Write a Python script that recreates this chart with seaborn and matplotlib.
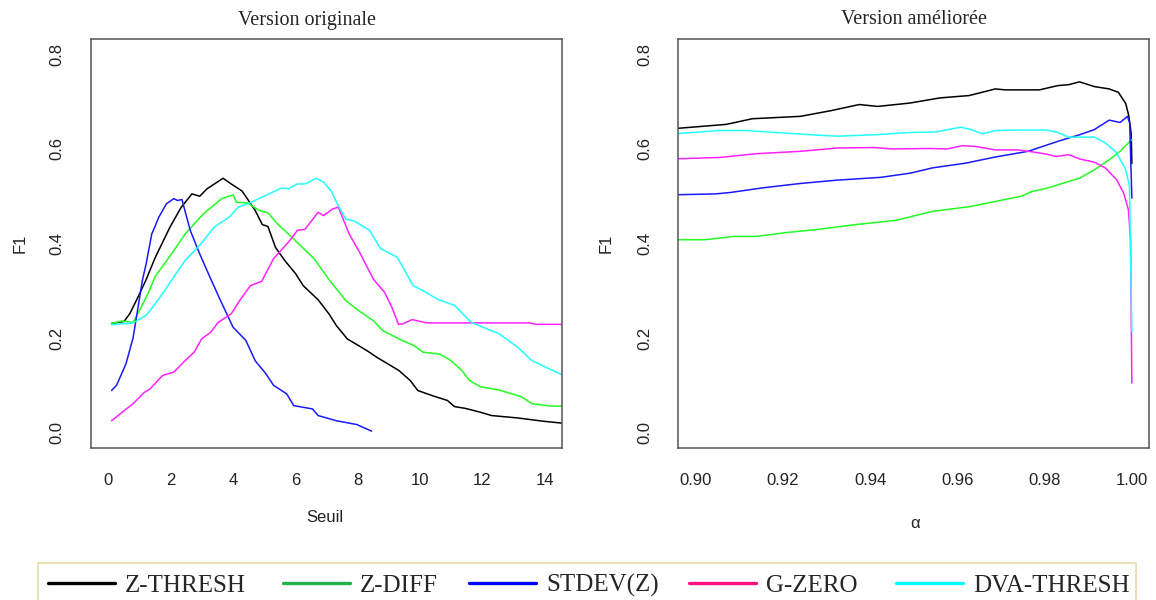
"""F1 curves: original threshold version vs improved alpha version."""

import pandas as pd
import seaborn as sns
import matplotlib.pyplot as plt
from matplotlib.lines import Line2D
from matplotlib.patches import Rectangle


METHODS = ['Z-THRESH', 'Z-DIFF', 'STDEV(Z)', 'G-ZERO', 'DVA-THRESH']
LINE_COLORS = ['#000000', '#22ff22', '#1a1aff', '#ff22ff', '#22ffff']
LEGEND_COLORS = ['#000000', '#22b14c', '#0000ff', '#ff0f80', '#00ffff']

# left panel: F1 as a function of the threshold ("Seuil")
zt_seuil = [0.1, 0.5, 0.69, 0.9, 1.2, 1.5, 1.97, 2.33, 2.68, 2.93, 3.17, 3.68, 3.94,
            4.29, 4.71, 4.94, 5.12, 5.36, 5.66, 6.01, 6.25, 6.73, 7.08, 7.32, 7.67,
            8.03, 8.33, 8.62, 8.98, 9.33, 9.69, 9.93, 10.4, 10.88, 11.11, 11.47,
            11.94, 12.3, 13.13, 13.96, 14.7]
zt_f1 = [0.231, 0.235, 0.252, 0.28, 0.322, 0.37, 0.434, 0.476, 0.505, 0.50, 0.516,
         0.538, 0.526, 0.511, 0.47, 0.44, 0.436, 0.392, 0.364, 0.336, 0.311, 0.281,
         0.251, 0.226, 0.198, 0.184, 0.172, 0.159, 0.145, 0.131, 0.110, 0.089,
         0.078, 0.068, 0.055, 0.051, 0.043, 0.036, 0.031, 0.024, 0.019]

zd_seuil = [0.1, 0.44, 0.79, 0.97, 1.27, 1.5, 2.1, 2.46, 3.05, 3.64, 4.0, 4.11, 4.47,
            4.83, 5.12, 5.42, 5.89, 6.6, 7.1, 7.62, 8.03, 8.5, 8.8, 9.33, 9.81,
            10.1, 10.64, 11.0, 11.35, 11.59, 11.94, 12.54, 13.25, 13.6, 14.2, 14.7]
zd_f1 = [0.231, 0.236, 0.233, 0.255, 0.294, 0.33, 0.385, 0.42, 0.463, 0.495, 0.503,
         0.487, 0.486, 0.47, 0.465, 0.442, 0.413, 0.368, 0.322, 0.279, 0.258, 0.237,
         0.216, 0.198, 0.184, 0.170, 0.166, 0.152, 0.131, 0.110, 0.097, 0.090,
         0.076, 0.061, 0.056, 0.056]

sd_seuil = [0.1, 0.26, 0.56, 0.79, 1.09, 1.21, 1.39, 1.62, 1.86, 2.1, 2.21, 2.36,
            2.51, 2.63, 2.93, 3.25, 3.6, 4.0, 4.41, 4.71, 5.06, 5.3, 5.72, 5.95,
            6.55, 6.73, 7.32, 7.97, 8.45]
sd_f1 = [0.089, 0.10, 0.145, 0.20, 0.322, 0.357, 0.42, 0.456, 0.484, 0.495, 0.491,
         0.493, 0.456, 0.427, 0.378, 0.33, 0.279, 0.223, 0.195, 0.152, 0.124, 0.10,
         0.082, 0.057, 0.050, 0.036, 0.025, 0.017, 0.003]

gz_seuil = [0.1, 0.44, 0.79, 1.15, 1.33, 1.74, 2.1, 2.46, 2.75, 2.99, 3.28, 3.52,
            3.94, 4.23, 4.56, 4.92, 5.3, 5.78, 6.07, 6.31, 6.73, 6.9, 7.2, 7.38,
            7.73, 8.09, 8.5, 8.86, 9.1, 9.31, 9.45, 9.75, 10.22, 11.94, 13.49,
            13.72, 14.7]
gz_f1 = [0.025, 0.043, 0.061, 0.085, 0.092, 0.121, 0.128, 0.152, 0.17, 0.198, 0.212,
         0.233, 0.251, 0.281, 0.311, 0.320, 0.368, 0.403, 0.428, 0.43, 0.466, 0.459,
         0.473, 0.477, 0.42, 0.378, 0.325, 0.297, 0.265, 0.229, 0.23, 0.239,
         0.232, 0.232, 0.232, 0.229, 0.229]

dva_seuil = [0.1, 0.44, 0.79, 1.21, 1.5, 1.8, 2.02, 2.46, 2.93, 3.4, 3.88, 4.17,
             4.47, 5.06, 5.54, 5.78, 6.07, 6.31, 6.67, 6.9, 7.14, 7.38, 7.62, 7.91,
             8.38, 8.74, 9.27, 9.78, 10.1, 10.6, 11.11, 11.65, 12.54, 13.13, 13.6,
             14.08, 14.7]
dva_f1 = [0.228, 0.23, 0.232, 0.248, 0.272, 0.30, 0.322, 0.364, 0.396, 0.435, 0.456,
          0.477, 0.484, 0.502, 0.517, 0.516, 0.526, 0.526, 0.538, 0.53, 0.512, 0.48,
          0.452, 0.447, 0.428, 0.389, 0.371, 0.311, 0.30, 0.281, 0.269, 0.233,
          0.209, 0.181, 0.152, 0.137, 0.118]

# right panel: F1 as a function of alpha
zt_alpha = [0.895, 0.907, 0.913, 0.924, 0.931, 0.9375, 0.9417, 0.949, 0.956, 0.9627,
            0.9687, 0.971, 0.9788, 0.983, 0.9855, 0.988, 0.9914, 0.9948, 0.9969,
            0.9986, 0.9993, 0.99985, 1.0]
zt_alpha_f1 = [0.643, 0.652, 0.664, 0.669, 0.681, 0.694, 0.690, 0.697, 0.708, 0.713,
               0.727, 0.725, 0.725, 0.734, 0.736, 0.742, 0.732, 0.727, 0.720, 0.696,
               0.670, 0.632, 0.569]

zd_alpha = [0.895, 0.9021, 0.9088, 0.9139, 0.9206, 0.9282, 0.9366, 0.9459, 0.9543,
            0.9628, 0.9687, 0.9746, 0.9771, 0.9805, 0.9847, 0.988, 0.9914, 0.9948,
            0.9973, 1.0]
zd_alpha_f1 = [0.408, 0.408, 0.415, 0.415, 0.423, 0.430, 0.440, 0.449, 0.468, 0.478,
               0.489, 0.500, 0.510, 0.517, 0.529, 0.538, 0.556, 0.577, 0.595, 0.620]

sd_alpha = [0.895, 0.9046, 0.908, 0.9156, 0.924, 0.9324, 0.9425, 0.9493, 0.9543,
            0.9619, 0.9687, 0.9762, 0.983, 0.988, 0.9914, 0.9948, 0.9973, 0.999,
            0.9995, 1.0]
sd_alpha_f1 = [0.503, 0.505, 0.508, 0.518, 0.527, 0.534, 0.540, 0.549, 0.560, 0.570,
               0.583, 0.595, 0.616, 0.630, 0.641, 0.661, 0.656, 0.669, 0.655, 0.496]

gz_alpha = [0.895, 0.9055, 0.9139, 0.924, 0.9324, 0.9409, 0.9451, 0.9535, 0.9577,
            0.9611, 0.9644, 0.9687, 0.9737, 0.9771, 0.9805, 0.9826, 0.9855, 0.988,
            0.9914, 0.9939, 0.9965, 0.9981, 0.9992, 0.9997, 1.0]
gz_alpha_f1 = [0.579, 0.582, 0.590, 0.595, 0.602, 0.603, 0.600, 0.601, 0.600, 0.607,
               0.605, 0.598, 0.598, 0.594, 0.589, 0.584, 0.588, 0.579, 0.572, 0.560,
               0.535, 0.507, 0.472, 0.408, 0.105]

dva_alpha = [0.895, 0.9055, 0.9114, 0.9198, 0.9265, 0.9324, 0.9409, 0.9493, 0.955,
             0.9607, 0.9628, 0.9657, 0.9687, 0.9746, 0.9805, 0.983, 0.9855, 0.9889,
             0.9914, 0.9939, 0.9965, 0.9986, 0.99945, 1.0]
dva_alpha_f1 = [0.632, 0.639, 0.639, 0.634, 0.630, 0.627, 0.630, 0.635, 0.636, 0.646,
                0.642, 0.632, 0.639, 0.640, 0.640, 0.635, 0.625, 0.625, 0.625, 0.613,
                0.592, 0.556, 0.521, 0.214]

FIG_W, FIG_H = 1156, 600
SERIF = ['Liberation Serif', 'DejaVu Serif']
SANS = ['Liberation Sans', 'DejaVu Sans']


def build_frame(xs, ys):
    rows = []
    for name, x, y in zip(METHODS, xs, ys):
        rows.append(pd.DataFrame({'x': x, 'F1': y, 'method': name}))
    return pd.concat(rows, ignore_index = True)


def fx(px):
    return px / FIG_W


def fy(py):
    return 1 - py / FIG_H


def style_axes(ax):
    for spine in ax.spines.values():
        spine.set_visible(True)
        spine.set_color('#555555')
        spine.set_linewidth(1.1)
    ax.tick_params(direction = 'out', length = 7, width = 1.1, color = '#555555',
                   labelsize = 12, labelcolor = '#222222')
    ax.tick_params(axis = 'x', pad = 11)
    ax.tick_params(axis = 'y', pad = 12)
    ax.set_ylim(-0.032, 0.832)
    ax.set_yticks([0.0, 0.2, 0.4, 0.6, 0.8])
    ax.set_yticklabels(['0.0', '0.2', '0.4', '0.6', '0.8'], rotation = 90, va = 'center')
    ax.set_ylabel('F1', fontsize = 12, color = '#222222', va = 'center')


def main():
    sns.set_style('white')
    plt.rcParams['font.family'] = SANS

    palette = dict(zip(METHODS, LINE_COLORS))
    left = build_frame([zt_seuil, zd_seuil, sd_seuil, gz_seuil, dva_seuil],
                       [zt_f1, zd_f1, sd_f1, gz_f1, dva_f1])
    right = build_frame([zt_alpha, zd_alpha, sd_alpha, gz_alpha, dva_alpha],
                        [zt_alpha_f1, zd_alpha_f1, sd_alpha_f1, gz_alpha_f1, dva_alpha_f1])

    fig = plt.figure(figsize = (FIG_W / 100, FIG_H / 100), dpi = 100)
    ax1 = fig.add_axes([fx(91), fy(447.7), fx(471), 408.4 / FIG_H])
    ax2 = fig.add_axes([fx(678.3), fy(447.7), fx(471), 408.4 / FIG_H])

    sns.lineplot(data = left, x = 'x', y = 'F1', hue = 'method', palette = palette,
                 estimator = None, sort = False, linewidth = 1.1, legend = False, ax = ax1)
    sns.lineplot(data = right, x = 'x', y = 'F1', hue = 'method', palette = palette,
                 estimator = None, sort = False, linewidth = 1.1, legend = False, ax = ax2)

    style_axes(ax1)
    ax1.set_xlim(-0.56, 14.56)
    ax1.set_xticks(range(0, 15, 2))
    ax1.set_xlabel('Seuil', fontsize = 12, color = '#222222', va = 'center')
    ax1.xaxis.set_label_coords((325 - 91) / 471, (447.7 - 518) / 408.4)
    ax1.yaxis.set_label_coords((20 - 91) / 471, 0.5)

    style_axes(ax2)
    ax2.set_xlim(0.896, 1.004)
    ax2.set_xticks([0.90, 0.92, 0.94, 0.96, 0.98, 1.00])
    ax2.set_xticklabels(['0.90', '0.92', '0.94', '0.96', '0.98', '1.00'])
    ax2.set_xlabel('α', fontsize = 12, color = '#222222', va = 'center')
    ax2.xaxis.set_label_coords((914.6 - 678.3) / 471, (447.7 - 523) / 408.4)
    ax2.yaxis.set_label_coords((606 - 678.3) / 471, 0.5)

    fig.text(fx(307), fy(20), 'Version originale', family = SERIF, fontsize = 14.5,
             ha = 'center', va = 'center')
    fig.text(fx(914), fy(20), 'Version améliorée', family = SERIF, fontsize = 14.5,
             ha = 'center', va = 'center')

    # legend strip along the bottom edge
    fig.patches.append(Rectangle((fx(37.7), fy(612)), fx(1136 - 37.7), 49.3 / FIG_H,
                                 transform = fig.transFigure, fill = False,
                                 edgecolor = '#e8dca8', linewidth = 1.2))
    line_starts = [48, 283, 469, 689, 896]
    for name, color, x0 in zip(METHODS, LEGEND_COLORS, line_starts):
        fig.lines.append(Line2D([fx(x0), fx(x0 + 67)], [fy(583), fy(583)],
                                transform = fig.transFigure, color = color, linewidth = 2.4))
        fig.text(fx(x0 + 77), fy(583), name, family = SERIF, fontsize = 18,
                 ha = 'left', va = 'center_baseline')

    fig.savefig('out.png', dpi = 100)
    plt.close(fig)


if __name__ == '__main__':
    main()
